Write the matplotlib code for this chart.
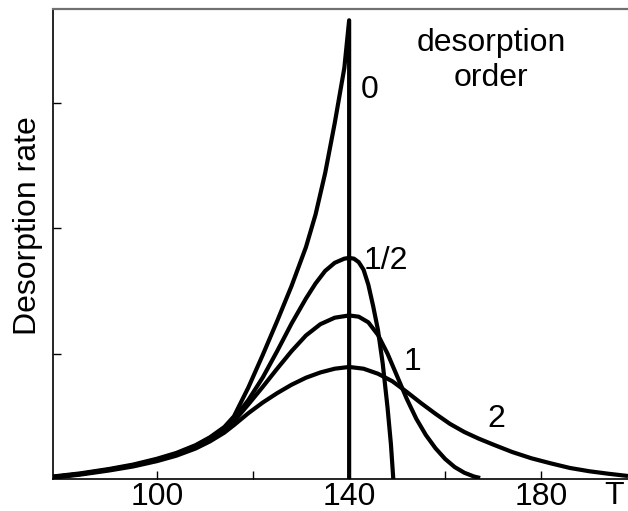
import matplotlib
matplotlib.use('Agg')
import matplotlib.pyplot as plt

plt.rcParams['font.family'] = ['Liberation Sans', 'DejaVu Sans']

# values (temperature, desorption rate in tick units)
t_order0 = [78.3, 84, 90, 95, 100, 104, 108, 111, 114, 116, 119, 122, 125, 128, 131, 133, 135,
            137, 139, 140, 140]
r_order0 = [0.02, 0.045, 0.08, 0.115, 0.162, 0.208, 0.27, 0.333, 0.415, 0.50, 0.73, 0.99, 1.26,
            1.54, 1.85, 2.11, 2.44, 2.84, 3.28, 3.66, 0.0]

t_order_half = [78.3, 84, 90, 95, 100, 104, 108, 111, 114, 116, 119, 122, 125, 128, 131, 133, 135,
                137, 139, 140, 141, 142, 143, 144, 145, 146, 147, 148, 148.7, 149.2]
r_order_half = [0.016, 0.04, 0.075, 0.11, 0.155, 0.2, 0.262, 0.325, 0.405, 0.48, 0.63, 0.81, 1.02,
                1.24, 1.44, 1.56, 1.66, 1.725, 1.758, 1.764, 1.758, 1.73, 1.67, 1.55, 1.38, 1.19,
                0.92, 0.57, 0.28, 0.0]

t_order1 = [78.3, 84, 90, 95, 100, 104, 108, 111, 114, 116, 119, 122, 125, 128, 131, 134, 137,
            140, 142, 144, 146, 148, 150, 152, 154, 156, 158, 160, 162, 164, 166, 167.3]
r_order1 = [0.016, 0.04, 0.074, 0.108, 0.152, 0.196, 0.255, 0.315, 0.39, 0.46, 0.595, 0.735, 0.88,
            1.02, 1.145, 1.235, 1.287, 1.305, 1.295, 1.25, 1.15, 1.0, 0.82, 0.64, 0.48, 0.35,
            0.245, 0.16, 0.095, 0.05, 0.02, 0.008]

t_order2 = [78.3, 84, 90, 95, 100, 104, 108, 111, 114, 116, 119, 122, 125, 128, 131, 134, 137,
            140, 143, 146, 149, 152, 155, 158, 161, 164, 167, 170, 174, 178, 182, 186, 190, 194,
            198.1]
r_order2 = [0.01, 0.035, 0.068, 0.1, 0.143, 0.186, 0.243, 0.3, 0.37, 0.43, 0.525, 0.61, 0.685,
            0.752, 0.808, 0.85, 0.88, 0.894, 0.88, 0.84, 0.78, 0.695, 0.605, 0.52, 0.44, 0.375,
            0.322, 0.275, 0.215, 0.165, 0.125, 0.088, 0.062, 0.042, 0.024]

x_ticks = [100, 120, 140, 160, 180]
x_tick_labels = ['100', '', '140', '', '180']
y_ticks = [1, 2, 3]

fig = plt.figure(figsize=(6.28, 5.11), dpi=100)
ax = fig.add_axes([53 / 628, 32 / 511, 575 / 628, 470 / 511])

for t, r in [(t_order0, r_order0), (t_order_half, r_order_half),
             (t_order1, r_order1), (t_order2, r_order2)]:
    ax.plot(t, r, color='black', lw=3, solid_joinstyle='round', solid_capstyle='butt')

ax.set_xlim(78.3, 198.1)
ax.set_ylim(0, 3.75)
ax.set_xticks(x_ticks)
ax.set_xticklabels(x_tick_labels)
ax.set_yticks(y_ticks)
ax.set_yticklabels([])
ax.tick_params(direction='in', length=5.5, width=1, labelsize=23, pad=2)

ax.spines['right'].set_visible(False)
ax.spines['top'].set_color('#707070')
ax.spines['top'].set_linewidth(1.6)
ax.spines['left'].set_linewidth(1.2)
ax.spines['bottom'].set_linewidth(1.2)

ax.text(169.6, 3.34, 'desorption\norder', ha='center', va='center', fontsize=23)
ax.text(144.2, 3.10, '0', ha='center', va='center', fontsize=23)
ax.text(147.7, 1.74, '1/2', ha='center', va='center', fontsize=23)
ax.text(153.3, 0.93, '1', ha='center', va='center', fontsize=23)
ax.text(170.6, 0.48, '2', ha='center', va='center', fontsize=23)

ax.text(0.976, -0.037, 'T', transform=ax.transAxes, ha='center', va='center',
        fontsize=23, clip_on=False)
fig.text(28 / 628, 1 - 226 / 511, 'Desorption rate', rotation=90,
         ha='center', va='center', fontsize=23)

fig.savefig('out.png', dpi=100)
